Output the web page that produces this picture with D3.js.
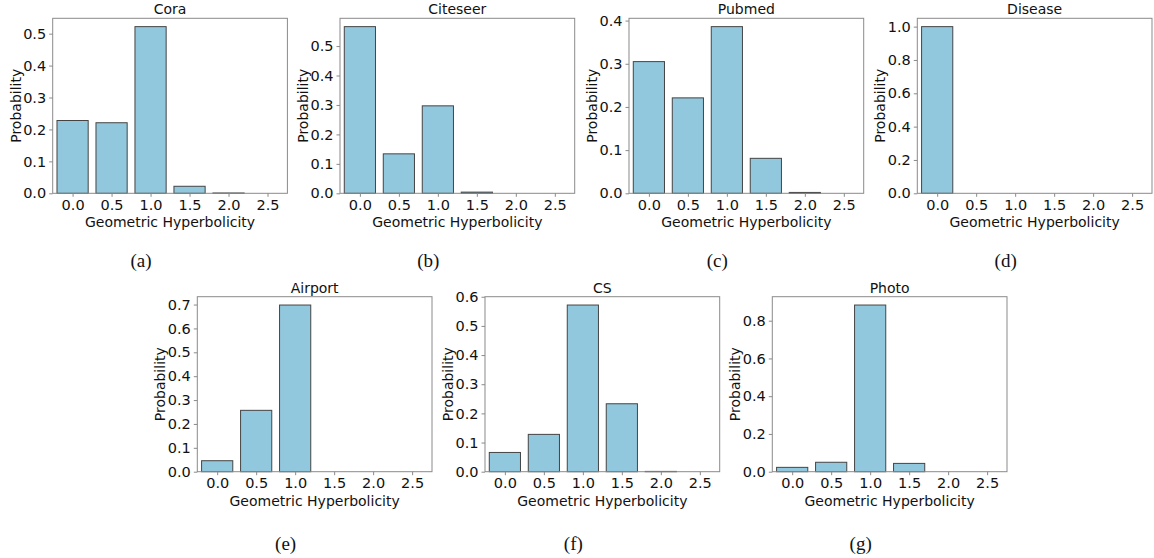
<!DOCTYPE html>
<html>
<head>
<meta charset="utf-8">
<script src="https://cdn.jsdelivr.net/npm/d3@7"></script>
<style>
  body { margin: 0; background: #fff; }
  svg text { font-family: "DejaVu Sans", sans-serif; fill: #111; }
  .cap { font-family: "Liberation Serif", "DejaVu Serif", serif; }
</style>
</head>
<body>
<svg id="canvas"></svg>
<script>
// bins of geometric hyperbolicity, same for every panel
const bins = [0.0, 0.5, 1.0, 1.5, 2.0, 2.5];

// probabilities
const cora     = [0.228, 0.221, 0.522, 0.022, 0.001, 0];
const citeseer = [0.566, 0.134, 0.297, 0.004, 0, 0];
const pubmed   = [0.305, 0.221, 0.386, 0.081, 0.002, 0];
const disease  = [1.0, 0, 0, 0, 0, 0];
const airport  = [0.046, 0.257, 0.698, 0, 0, 0];
const cs       = [0.066, 0.128, 0.5716, 0.233, 0.001, 0];
const photo    = [0.023, 0.050, 0.883, 0.044, 0, 0];

const titles   = ['Cora', 'Citeseer', 'Pubmed', 'Disease', 'Airport', 'CS', 'Photo'];
const captions = ['(a)', '(b)', '(c)', '(d)', '(e)', '(f)', '(g)'];
const yTickStep = [0.1, 0.1, 0.1, 0.2, 0.1, 0.1, 0.2];

const series = [cora, citeseer, pubmed, disease, airport, cs, photo];

// panel boxes (plot area), left / top
const boxes = [
  [52.7, 18.3], [340, 18.3], [629, 18.3], [917.3, 18.3],
  [197.3, 296.7], [485, 296.7], [772.3, 296.7]
];
const pw = 234.7, ph = 175;

const w = 1154, h = 558;
const svg = d3.select('#canvas').attr('width', w).attr('height', h);

series.forEach((vals, i) => {
  const [x0, y0] = boxes[i];
  const g = svg.append('g').attr('transform', 'translate(' + x0 + ',' + y0 + ')');

  const xScale = d3.scaleLinear().domain([-0.255, 2.755]).range([0, pw]);
  const yMax = d3.max(vals) * 1.05;
  const yScale = d3.scaleLinear().domain([0, yMax]).range([ph, 0]);
  const barW = xScale(0.4) - xScale(0);

  g.selectAll('rect.bar')
    .data(vals)
    .enter()
    .append('rect')
    .attr('class', 'bar')
    .attr('x', (d, j) => xScale(bins[j]) - barW / 2)
    .attr('y', d => yScale(d))
    .attr('width', barW)
    .attr('height', d => ph - yScale(d))
    .attr('fill', '#92c8dd')
    .attr('stroke', '#444')
    .attr('stroke-width', 1);

  // frame
  g.append('rect')
    .attr('width', pw).attr('height', ph)
    .attr('fill', 'none').attr('stroke', '#8a8a8a').attr('stroke-width', 1);

  const yTicks = d3.range(0, yMax + 1e-9, yTickStep[i]);
  const xAxis = d3.axisBottom(xScale).tickValues(bins).tickFormat(d3.format('.1f'))
    .tickSizeInner(3.5).tickSizeOuter(0).tickPadding(3);
  const yAxis = d3.axisLeft(yScale).tickValues(yTicks).tickFormat(d3.format('.1f'))
    .tickSizeInner(3.5).tickSizeOuter(0).tickPadding(3);

  const gx = g.append('g').attr('transform', 'translate(0,' + ph + ')').call(xAxis);
  const gy = g.append('g').call(yAxis);
  [gx, gy].forEach(a => {
    a.select('.domain').remove();
    a.selectAll('line').attr('stroke', '#8a8a8a');
    a.selectAll('text').style('font-size', '14.5px').attr('fill', '#111');
  });

  g.append('text')
    .attr('x', pw / 2).attr('y', -4)
    .attr('text-anchor', 'middle')
    .style('font-size', '14px')
    .text(titles[i]);

  g.append('text')
    .attr('x', pw / 2).attr('y', ph + 34)
    .attr('text-anchor', 'middle')
    .style('font-size', '14px')
    .text('Geometric Hyperbolicity');

  g.append('text')
    .attr('transform', 'translate(' + (-32) + ',' + (ph / 2) + ') rotate(-90)')
    .attr('text-anchor', 'middle')
    .style('font-size', '14px')
    .text('Probability');

  g.append('text')
    .attr('class', 'cap')
    .attr('x', pw / 2 - 29).attr('y', ph + (i < 4 ? 74 : 78))
    .attr('text-anchor', 'middle')
    .style('font-size', '19px')
    .text(captions[i]);
});
</script>
</body>
</html>
